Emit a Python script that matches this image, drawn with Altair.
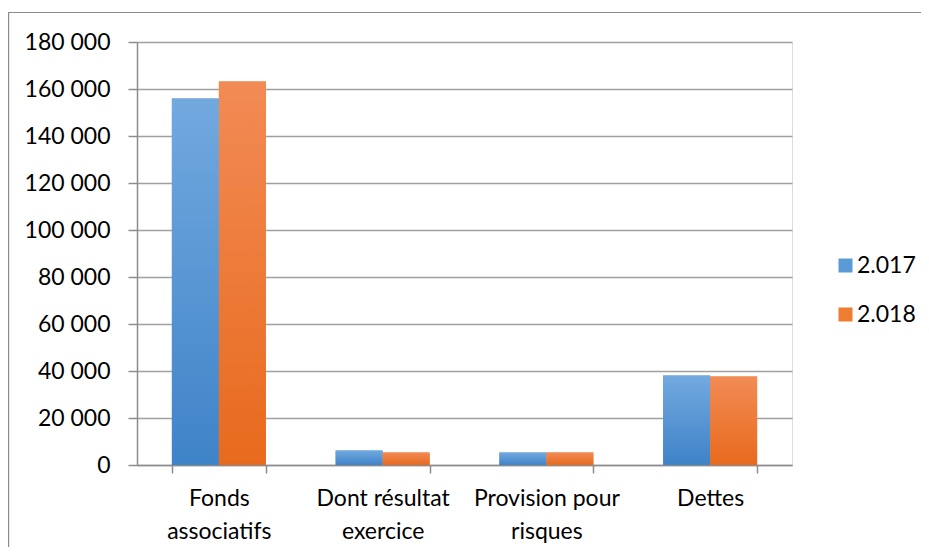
import altair as alt
import pandas as pd

categories = ["Fonds associatifs", "Dont résultat exercice", "Provision pour risques", "Dettes"]
category_lines = [["Fonds", "associatifs"], ["Dont résultat", "exercice"], ["Provision pour", "risques"], ["Dettes"]]
years = ["2.017", "2.018"]
values_2017 = [156000, 6200, 5300, 38100]
values_2018 = [163200, 5300, 5300, 37700]
y_ticks = list(range(0, 180001, 20000))

rows = []
for c, v1, v2 in zip(categories, values_2017, values_2018):
    rows.append({"categorie": c, "annee": years[0], "valeur": v1})
    rows.append({"categorie": c, "annee": years[1], "valeur": v2})
df = pd.DataFrame(rows)

# label expression built from the label lists
expr = "datum.value"
for c, lines in reversed(list(zip(categories, category_lines))):
    arr = "[" + ", ".join("'" + s + "'" for s in lines) + "]"
    expr = f"datum.value == '{c}' ? {arr} : ({expr})"

FONT = "Lato"
AX = "#8c8c8c"
GRID = "#a0a0a0"

blue_solid = "#5b9bd5"
orange_solid = "#ed7d31"
blue_grad = {"gradient": "linear", "x1": 0, "y1": 0, "x2": 0, "y2": 1,
             "stops": [{"offset": 0, "color": "#72a9df"}, {"offset": 1, "color": "#3f83c8"}]}
orange_grad = {"gradient": "linear", "x1": 0, "y1": 0, "x2": 0, "y2": 1,
               "stops": [{"offset": 0, "color": "#f28b55"}, {"offset": 1, "color": "#e86a1d"}]}

base = alt.Chart(df).encode(
    x=alt.X("categorie:N", sort=categories,
            scale=alt.Scale(domain=categories, paddingInner=0.426, paddingOuter=0.213),
            axis=alt.Axis(title=None, labelAngle=0, tickBand="extent", tickSize=8,
                          tickColor=AX, domainColor=AX, domainWidth=1.5, tickWidth=1.5,
                          labelFont=FONT, labelFontSize=23, labelColor="#000",
                          labelLineHeight=33, labelPadding=14, labelExpr=expr,
                          labelLimit=0, grid=False)),
    xOffset=alt.XOffset("annee:N", scale=alt.Scale(domain=years, paddingInner=0, paddingOuter=0)),
    y=alt.Y("valeur:Q", scale=alt.Scale(domain=[0, 180000], nice=False),
            axis=alt.Axis(title=None, values=y_ticks, tickSize=9, tickColor=AX, tickWidth=1.5,
                          domainColor=AX, domainWidth=1.5, gridColor=GRID, gridWidth=1.5,
                          labelFont=FONT, labelFontSize=23, labelColor="#000", labelPadding=18,
                          labelExpr="replace(format(datum.value, ','), ',', ' ')")),
)

bars = base.mark_bar().encode(
    color=alt.Color("annee:N", scale=alt.Scale(domain=years, range=[blue_solid, orange_solid]),
                    legend=alt.Legend(title=None, orient="none", legendX=697, legendY=212,
                                      symbolType="square", symbolSize=196, symbolStrokeWidth=0,
                                      labelFont=FONT, labelFontSize=23, labelColor="#000",
                                      labelOffset=0, rowPadding=25, padding=0))
)
g17 = base.mark_bar(color=blue_grad).transform_filter(alt.datum.annee == years[0])
g18 = base.mark_bar(color=orange_grad).transform_filter(alt.datum.annee == years[1])

frame = alt.Chart(pd.DataFrame({"k": [0]})).mark_rect(fill="transparent", stroke="#8c8c8c", strokeWidth=1.2).encode(
    x=alt.value(-128.4), x2=alt.value(900), y=alt.value(-29.5), y2=alt.value(700)
)

chart = alt.layer(frame, bars, g17, g18).properties(
    width=655, height=423,
    autosize=alt.AutoSizeParams(type="none"),
    padding={"left": 129, "top": 34, "right": 129, "bottom": 82},
).configure_view(stroke=None).configure(background="white")

chart.save("out.html", embed_options={"renderer": "svg", "actions": False})
